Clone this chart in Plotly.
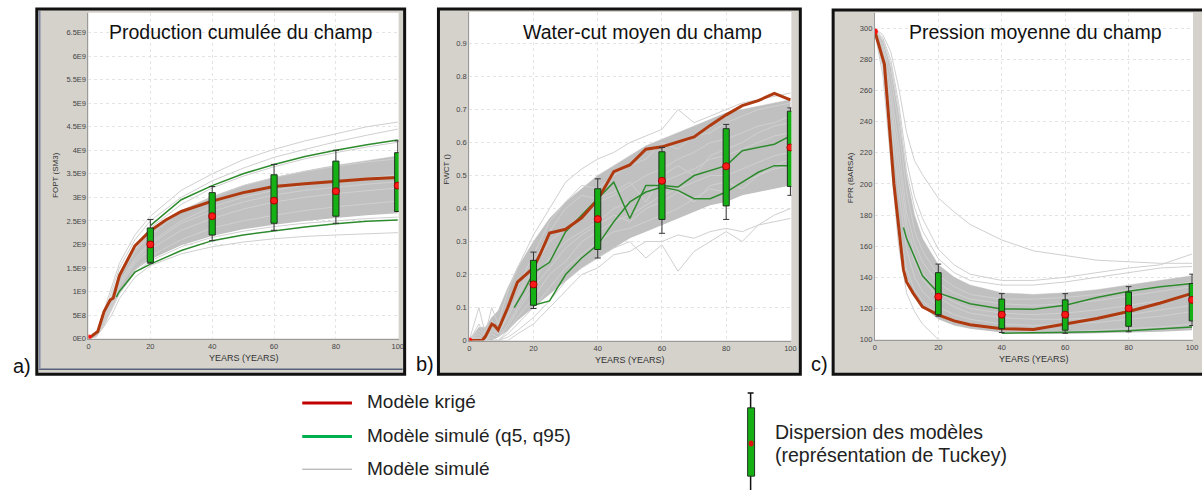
import plotly.graph_objects as go

W, H = 1202, 495
FONT = "Liberation Sans, Arial, sans-serif"

# ---------------- a) Production cumulée (FOPT, en E9 SM3) ----------------
A_X = [0, 2.5, 5, 7.5, 10, 15, 20, 30, 40, 50, 60, 70, 80, 90, 100]
A_BAND_HI = [0, 0.06, 0.42, 0.88, 1.35, 1.9, 2.25, 2.72, 3.02, 3.25, 3.42, 3.56, 3.68, 3.78, 3.88]
A_BAND_LO = [0, 0.04, 0.3, 0.62, 1.0, 1.45, 1.68, 1.98, 2.18, 2.32, 2.42, 2.5, 2.56, 2.62, 2.66]
A_SIMS = [
    [0, 0.1, 0.6, 1.1, 1.6, 2.2, 2.6, 3.15, 3.5, 3.8, 4.02, 4.2, 4.35, 4.5, 4.6],
    [0, 0.08, 0.5, 1.0, 1.5, 2.1, 2.5, 3.0, 3.35, 3.62, 3.85, 4.02, 4.18, 4.32, 4.45],
    [0, 0.07, 0.45, 0.9, 1.4, 1.95, 2.35, 2.85, 3.2, 3.45, 3.65, 3.82, 3.95, 4.07, 4.17],
    [0, 0.06, 0.4, 0.85, 1.3, 1.85, 2.2, 2.7, 3.0, 3.25, 3.42, 3.55, 3.66, 3.75, 3.82],
    [0, 0.05, 0.35, 0.75, 1.2, 1.7, 2.05, 2.5, 2.8, 3.0, 3.15, 3.26, 3.35, 3.42, 3.48],
    [0, 0.05, 0.32, 0.72, 1.15, 1.65, 2.0, 2.45, 2.7, 2.9, 3.05, 3.15, 3.22, 3.28, 3.33],
    [0, 0.05, 0.3, 0.7, 1.1, 1.6, 1.9, 2.3, 2.55, 2.75, 2.9, 3.0, 3.08, 3.14, 3.2],
    [0, 0.05, 0.3, 0.65, 1.0, 1.45, 1.75, 2.1, 2.35, 2.5, 2.62, 2.72, 2.8, 2.86, 2.92],
    [0, 0.04, 0.28, 0.6, 0.95, 1.4, 1.65, 1.95, 2.15, 2.28, 2.38, 2.45, 2.5, 2.55, 2.58],
    [0, 0.04, 0.25, 0.5, 0.85, 1.3, 1.55, 1.8, 1.95, 2.05, 2.12, 2.17, 2.2, 2.23, 2.25],
]
A_Q95_X = [20, 30, 40, 50, 60, 70, 80, 90, 100]
A_Q95 = [2.4, 2.95, 3.25, 3.5, 3.7, 3.87, 4.0, 4.12, 4.22]
A_Q5_X = [9, 10, 15, 20, 30, 40, 50, 60, 70, 80, 90, 100]
A_Q5 = [0.88, 1.0, 1.41, 1.58, 1.87, 2.08, 2.2, 2.29, 2.37, 2.44, 2.49, 2.52]
A_KRIG_X = [0, 1, 3, 5, 7, 8, 10, 12, 15, 20, 25, 30, 40, 50, 60, 70, 80, 90, 100]
A_KRIG = [0.02, 0.05, 0.15, 0.57, 0.82, 0.86, 1.34, 1.6, 1.97, 2.29, 2.52, 2.7, 2.92, 3.1, 3.23, 3.29, 3.34, 3.39, 3.42]
A_BOX = dict(lo=[1.6, 2.08, 2.3, 2.45, 2.7], q1=[1.62, 2.2, 2.45, 2.6, 2.7],
             med=[2.0, 2.6, 2.93, 3.13, 3.25], q3=[2.35, 3.1, 3.48, 3.77, 3.95],
             hi=[2.53, 3.23, 3.7, 4.0, 4.2])
A_TICKS = [0, 0.5, 1, 1.5, 2, 2.5, 3, 3.5, 4, 4.5, 5, 5.5, 6, 6.5]
A_TICKTEXT = ["0E0", "5E8", "1E9", "1.5E9", "2E9", "2.5E9", "3E9", "3.5E9",
              "4E9", "4.5E9", "5E9", "5.5E9", "6E9", "6.5E9"]

# ---------------- b) Water-cut moyen (FWCT) ----------------
B_X = [0, 3, 5, 7, 9, 12, 15, 20, 25, 30, 35, 40, 45, 50, 55, 60, 65, 70, 75, 80, 85, 90, 95, 100]
B_BAND_HI = [0, 0.04, 0.04, 0.07, 0.09, 0.16, 0.22, 0.3, 0.37, 0.42, 0.46, 0.5, 0.53, 0.56,
             0.59, 0.61, 0.63, 0.65, 0.67, 0.69, 0.7, 0.71, 0.72, 0.73]
B_BAND_LO = [0, 0, 0, 0, 0.01, 0.03, 0.06, 0.1, 0.14, 0.18, 0.22, 0.25, 0.28, 0.31,
             0.33, 0.35, 0.37, 0.39, 0.41, 0.42, 0.44, 0.45, 0.46, 0.47]
B_SIMS = [
    [0, 0.1, 0.02, 0.1, 0.05, 0.15, 0.22, 0.32, 0.4, 0.48, 0.52, 0.55, 0.57, 0.6, 0.62, 0.64, 0.7, 0.66, 0.68, 0.7, 0.72, 0.73, 0.74, 0.75],
    [0, 0.05, 0.01, 0.06, 0.03, 0.1, 0.16, 0.26, 0.36, 0.42, 0.47, 0.46, 0.5, 0.53, 0.55, 0.6, 0.58, 0.62, 0.63, 0.66, 0.68, 0.7, 0.71, 0.72],
    [0, 0.02, 0.0, 0.03, 0.02, 0.07, 0.13, 0.22, 0.3, 0.34, 0.38, 0.42, 0.44, 0.47, 0.5, 0.52, 0.55, 0.57, 0.6, 0.61, 0.63, 0.65, 0.66, 0.68],
    [0, 0.03, 0.01, 0.04, 0.02, 0.08, 0.14, 0.24, 0.33, 0.4, 0.44, 0.43, 0.45, 0.48, 0.42, 0.5, 0.53, 0.5, 0.56, 0.58, 0.6, 0.63, 0.65, 0.66],
    [0, 0.0, 0.0, 0.02, 0.01, 0.05, 0.1, 0.18, 0.25, 0.3, 0.33, 0.36, 0.4, 0.42, 0.45, 0.48, 0.5, 0.52, 0.55, 0.56, 0.58, 0.6, 0.62, 0.63],
    [0, 0, 0, 0.01, 0.0, 0.03, 0.07, 0.13, 0.2, 0.24, 0.3, 0.33, 0.36, 0.38, 0.41, 0.44, 0.46, 0.48, 0.5, 0.5, 0.52, 0.54, 0.56, 0.57],
    [0, 0.01, 0, 0.02, 0.01, 0.04, 0.09, 0.16, 0.22, 0.28, 0.32, 0.35, 0.38, 0.36, 0.4, 0.42, 0.45, 0.42, 0.47, 0.48, 0.46, 0.5, 0.53, 0.55],
    [0, 0, 0, 0, 0, 0.02, 0.05, 0.1, 0.16, 0.22, 0.26, 0.3, 0.33, 0.34, 0.36, 0.38, 0.4, 0.43, 0.46, 0.45, 0.48, 0.5, 0.52, 0.53],
    [0, 0, 0, 0, 0, 0.01, 0.03, 0.07, 0.12, 0.18, 0.22, 0.25, 0.28, 0.3, 0.25, 0.29, 0.21, 0.27, 0.3, 0.33, 0.3, 0.35, 0.38, 0.4],
    [0, 0, 0, 0, 0, 0, 0.02, 0.05, 0.1, 0.15, 0.2, 0.22, 0.26, 0.27, 0.3, 0.3, 0.32, 0.31, 0.33, 0.34, 0.33, 0.35, 0.36, 0.37],
]
B_Q95_X = [14, 17, 20, 25, 30, 35, 40, 45, 50, 55, 60, 65, 70, 75, 80, 85, 90, 95, 100]
B_Q95 = [0.1, 0.15, 0.205, 0.237, 0.33, 0.38, 0.43, 0.48, 0.37, 0.47, 0.47, 0.465, 0.5, 0.515, 0.53, 0.575, 0.585, 0.595, 0.62]
B_Q5_X = [20, 25, 30, 35, 40, 45, 50, 55, 60, 65, 70, 75, 80, 85, 90, 95, 100]
B_Q5 = [0.107, 0.12, 0.2, 0.25, 0.29, 0.36, 0.42, 0.45, 0.465, 0.455, 0.43, 0.43, 0.45, 0.48, 0.51, 0.53, 0.53]
B_KRIG_X = [0, 2, 4, 5, 7, 8, 9, 12, 15, 20, 22, 25, 30, 35, 40, 45, 50, 55, 60, 65, 70, 75, 80, 85, 90, 95, 100]
B_KRIG = [0, 0, 0, 0.012, 0.05, 0.044, 0.032, 0.1, 0.177, 0.22, 0.26, 0.326, 0.337, 0.372, 0.427,
          0.512, 0.532, 0.58, 0.587, 0.602, 0.617, 0.652, 0.684, 0.712, 0.727, 0.749, 0.729]
B_BOX = dict(lo=[0.097, 0.25, 0.325, 0.367, 0.44], q1=[0.107, 0.276, 0.367, 0.408, 0.467],
             med=[0.17, 0.368, 0.484, 0.528, 0.585], q3=[0.243, 0.46, 0.572, 0.642, 0.695],
             hi=[0.268, 0.49, 0.585, 0.655, 0.705])
B_TICKS = [0, 0.1, 0.2, 0.3, 0.4, 0.5, 0.6, 0.7, 0.8, 0.9]
B_TICKTEXT = ["0", "0.1", "0.2", "0.3", "0.4", "0.5", "0.6", "0.7", "0.8", "0.9"]

# ---------------- c) Pression moyenne (FPR, BARSA) ----------------
C_X = [0, 2.5, 5, 7.5, 10, 12.5, 15, 20, 25, 30, 40, 50, 60, 70, 80, 90, 100]
C_BAND_HI = [299, 292, 275, 245, 205, 180, 165, 148, 140, 135, 130, 129, 130, 132, 135, 138, 141]
C_BAND_LO = [296, 275, 225, 170, 140, 128, 121, 113, 109, 107, 104.5, 103.5, 103.5, 104, 104.5, 105, 106]
C_SIMS = [
    [300, 296, 285, 262, 233, 215, 206, 191, 182, 174, 164, 157, 154, 151, 150, 149, 149],
    [300, 294, 280, 252, 215, 192, 178, 158, 148, 142, 138, 138, 140, 143, 146, 148, 155],
    [299, 293, 277, 248, 208, 185, 170, 152, 143, 138, 135, 135, 137, 140, 143, 146, 147],
    [299, 290, 270, 238, 195, 170, 157, 141, 134, 129, 126, 126, 127, 129, 132, 134, 137],
    [299, 288, 262, 225, 182, 162, 150, 136, 130, 126, 123, 122, 123, 125, 128, 131, 134],
    [298, 285, 255, 215, 175, 155, 143, 130, 124, 120, 117, 116, 117, 119, 122, 125, 128],
    [298, 283, 250, 205, 168, 150, 139, 127, 121, 117, 114, 113, 113, 114, 116, 119, 122],
    [298, 280, 240, 195, 158, 140, 131, 121, 116, 113, 110, 109, 110, 111, 113, 115, 118],
    [297, 275, 228, 175, 145, 132, 125, 116, 112, 109, 106, 105, 105, 106, 107, 108, 110],
    [297, 270, 215, 160, 130, 118, 110, 100, 96, 94, 93, 93, 93, 94, 95, 96, 97],
]
C_Q95_X = [9, 10, 15, 20, 30, 40, 50, 60, 70, 80, 90, 100]
C_Q95 = [172, 165, 141, 130, 123, 119.7, 119.5, 122, 127, 131, 134, 136]
C_Q5_X = [40, 50, 60, 70, 80, 90, 100]
C_Q5 = [104, 104.2, 104.5, 105, 105.7, 107, 108]
C_KRIG_X = [0, 3, 6, 9, 10, 12, 15, 20, 25, 30, 40, 50, 60, 70, 80, 90, 100]
C_KRIG = [298, 277, 200, 145, 137, 130, 121, 115.9, 112, 109.5, 107, 106.5, 110, 113.5, 118, 123.5, 129.7]
C_BOX = dict(lo=[115, 104.5, 104, 105, 109], q1=[116, 107, 106, 108.5, 112],
             med=[127.5, 116, 116, 120, 125.5], q3=[143, 126, 125.5, 130.5, 136],
             hi=[148.5, 129.5, 129.5, 134, 142])
C_TICKS = [100, 120, 140, 160, 180, 200, 220, 240, 260, 280, 300]
C_TICKTEXT = [str(v) for v in C_TICKS]

BOX_X = [20, 40, 60, 80, 100]
X_TICKS = [0, 20, 40, 60, 80, 100]

KRIG_COLOR = "#b03a10"
Q_COLOR = "#2e8b2e"
SIM_COLOR = "#cfcfcf"
BAND_COLOR = "#c0c0c0"
BOX_FILL = "#14b014"
BOX_EDGE = "#203020"
FRAME_GRAY = "#d5d2cc"


def px_x(p):
    # pixel -> paper fraction
    return p / W


def px_y(p):
    return 1 - p / H


def box_paths(box, half):
    """Polygons for the boxes and segments for whiskers/caps, built from the box stats."""
    bx, by, wx, wy = [], [], [], []
    for i, x in enumerate(BOX_X):
        lo, q1, q3, hi = box["lo"][i], box["q1"][i], box["q3"][i], box["hi"][i]
        bx += [x - half, x + half, x + half, x - half, x - half, None]
        by += [q1, q1, q3, q3, q1, None]
        wx += [x, x, None, x, x, None, x - half, x + half, None, x - half, x + half, None]
        wy += [lo, q1, None, q3, hi, None, lo, lo, None, hi, hi, None]
    return bx, by, wx, wy


def add_panel(fig, n, x, band_hi, band_lo, sims, q95_x, q95, q5_x, q5, krig_x, krig, box, half):
    xa, ya = ("x", "y") if n == 1 else (f"x{n}", f"y{n}")
    common = dict(xaxis=xa, yaxis=ya, showlegend=False, hoverinfo="skip")
    fig.add_trace(go.Scatter(x=x, y=band_lo, mode="lines", line=dict(width=0, color=BAND_COLOR), **common))
    fig.add_trace(go.Scatter(x=x, y=band_hi, mode="lines", fill="tonexty", fillcolor=BAND_COLOR,
                             line=dict(width=0.5, color=BAND_COLOR), **common))
    for s in sims:
        fig.add_trace(go.Scatter(x=x, y=s, mode="lines", line=dict(width=1, color=SIM_COLOR), **common))
    fig.add_trace(go.Scatter(x=q95_x, y=q95, mode="lines", line=dict(width=1.5, color=Q_COLOR), **common))
    fig.add_trace(go.Scatter(x=q5_x, y=q5, mode="lines", line=dict(width=1.5, color=Q_COLOR), **common))
    fig.add_trace(go.Scatter(x=krig_x, y=krig, mode="lines", line=dict(width=3, color=KRIG_COLOR), **common))
    fig.add_trace(go.Scatter(x=krig_x[:1], y=krig[:1], mode="markers",
                             marker=dict(size=6, color="#ff1010"), **common))
    bx, by, wx, wy = box_paths(box, half)
    fig.add_trace(go.Scatter(x=wx, y=wy, mode="lines", line=dict(width=1, color="#333"), **common))
    fig.add_trace(go.Scatter(x=bx, y=by, mode="lines", fill="toself", fillcolor=BOX_FILL,
                             line=dict(width=1, color=BOX_EDGE), **common))
    fig.add_trace(go.Scatter(x=BOX_X, y=box["med"], mode="markers",
                             marker=dict(size=7, color="#ff1a1a", line=dict(color="#a00000", width=1)),
                             **common))


fig = go.Figure()
add_panel(fig, 1, A_X, A_BAND_HI, A_BAND_LO, A_SIMS, A_Q95_X, A_Q95, A_Q5_X, A_Q5, A_KRIG_X, A_KRIG, A_BOX, 1.0)
add_panel(fig, 2, B_X, B_BAND_HI, B_BAND_LO, B_SIMS, B_Q95_X, B_Q95, B_Q5_X, B_Q5, B_KRIG_X, B_KRIG, B_BOX, 0.95)
add_panel(fig, 3, C_X, C_BAND_HI, C_BAND_LO, C_SIMS, C_Q95_X, C_Q95, C_Q5_X, C_Q5, C_KRIG_X, C_KRIG, C_BOX, 0.9)

# plot areas in pixels: (left, right, top, bottom), y range, ticks
panels = [
    ((87, 399, 13, 342), [0, 6.92], A_TICKS, A_TICKTEXT),
    ((470, 794, 12, 344), [0, 0.996], B_TICKS, B_TICKTEXT),
    ((878, 1198, 13, 343), [100, 310], C_TICKS, C_TICKTEXT),
]
frames = [(35, 405, 9, 378), (439, 803, 9, 378), (836, 1215, 10, 378)]

axis_font = dict(family=FONT, size=7.5, color="#444")
layout_axes = {}
shapes = []
for i, ((l, r, t, b), yr, yt, ytt) in enumerate(panels):
    suf = "" if i == 0 else str(i + 1)
    layout_axes["xaxis" + suf] = dict(
        domain=[px_x(l), px_x(r)], range=[0, 100.3], anchor="y" + suf,
        tickvals=X_TICKS, ticks="", tickfont=axis_font, showgrid=True, gridcolor="#e4e4e4",
        griddash="dot", zeroline=False, showline=True, linecolor="#9a9a9a", linewidth=1,
    )
    layout_axes["yaxis" + suf] = dict(
        domain=[px_y(b), px_y(t)], range=yr, anchor="x" + suf,
        tickvals=yt, ticktext=ytt, ticks="", tickfont=axis_font, showgrid=True, gridcolor="#e4e4e4",
        griddash="dot", zeroline=False, showline=True, linecolor="#9a9a9a", linewidth=1,
    )
    fl, fr, ft, fb = frames[i]
    shapes.append(dict(type="rect", xref="paper", yref="paper", layer="below",
                       x0=px_x(fl), x1=px_x(fr), y0=px_y(fb), y1=px_y(ft),
                       fillcolor=FRAME_GRAY, line=dict(width=0)))
    shapes.append(dict(type="rect", xref="paper", yref="paper", layer="below",
                       x0=px_x(l), x1=px_x(r), y0=px_y(b), y1=px_y(t),
                       fillcolor="white", line=dict(width=0)))
    shapes.append(dict(type="rect", xref="paper", yref="paper", layer="above",
                       x0=px_x(fl), x1=px_x(fr), y0=px_y(fb), y1=px_y(ft),
                       fillcolor="rgba(0,0,0,0)", line=dict(width=3, color="#111")))

# blue window edges inside panel a
shapes.append(dict(type="line", xref="paper", yref="paper", layer="above",
                   x0=px_x(37), x1=px_x(403), y0=px_y(373), y1=px_y(373),
                   line=dict(width=1.5, color="#55607a")))
shapes.append(dict(type="line", xref="paper", yref="paper", layer="above",
                   x0=px_x(38), x1=px_x(38), y0=px_y(373), y1=px_y(11),
                   line=dict(width=1.5, color="#8088a8")))

# legend (drawn by hand, as in the original figure)
legend_lines = [(407, "#c00000", 3), (441, "#00b050", 3), (474, "#a0a0a0", 1)]
for yy, col, wd in legend_lines:
    shapes.append(dict(type="line", xref="paper", yref="paper",
                       x0=px_x(302), x1=px_x(352), y0=px_y(yy), y1=px_y(yy),
                       line=dict(width=wd, color=col)))
shapes += [
    dict(type="line", xref="paper", yref="paper", x0=px_x(753), x1=px_x(753),
         y0=px_y(397), y1=0, line=dict(width=1.5, color="#111")),
    dict(type="line", xref="paper", yref="paper", x0=px_x(750), x1=px_x(756),
         y0=px_y(397), y1=px_y(397), line=dict(width=1.5, color="#111")),
    dict(type="rect", xref="paper", yref="paper", x0=px_x(750), x1=px_x(757),
         y0=px_y(481), y1=px_y(412), fillcolor=BOX_FILL, line=dict(width=1, color=BOX_EDGE)),
    dict(type="circle", xref="paper", yref="paper", x0=px_x(751), x1=px_x(756),
         y0=px_y(451), y1=px_y(445), fillcolor="#e01010", line=dict(width=0)),
]

annotations = []


def ann(text, x, y, size, color="#111", xanchor="center", angle=0):
    annotations.append(dict(text=text, x=px_x(x), y=px_y(y), xref="paper", yref="paper",
                            showarrow=False, xanchor=xanchor, yanchor="middle", textangle=angle,
                            font=dict(family=FONT, size=size, color=color)))


ann("Production cumulée du champ", 240, 32, 19.5)
ann("Water-cut moyen du champ", 644, 32, 19.5)
ann("Pression moyenne du champ", 1040, 32, 19.5)
ann("a)", 20, 370, 20)
ann("b)", 425, 368, 20)
ann("c)", 822, 368, 20)
ann("FOPT (SM3)", 54, 177, 8, "#333", angle=-90)
ann("FWCT ()", 447, 171, 8, "#333", angle=-90)
ann("FPR (BARSA)", 853, 180, 8, "#333", angle=-90)
ann("YEARS (YEARS)", 243, 362, 9, "#333")
ann("YEARS (YEARS)", 632, 364, 9, "#333")
ann("YEARS (YEARS)", 1038, 363, 9, "#333")
for yy, txt in [(406, "Modèle krigé"), (440, "Modèle simulé (q5, q95)"), (473, "Modèle simulé")]:
    ann(txt, 365, yy, 19, "#222", xanchor="left")
for yy, txt in [(436, "Dispersion des modèles"), (460, "(représentation de Tuckey)")]:
    ann(txt, 776, yy, 19.5, "#222", xanchor="left")

fig.update_layout(
    width=W, height=H,
    margin=dict(l=0, r=0, t=0, b=0),
    paper_bgcolor="white", plot_bgcolor="white",
    showlegend=False,
    shapes=shapes, annotations=annotations,
    **layout_axes,
)

# the page body has a default 8 px margin; drop it so the figure starts at the corner
fig.write_html("out.html", config={"displayModeBar": False},
               post_script="document.body.style.margin = '0';")
